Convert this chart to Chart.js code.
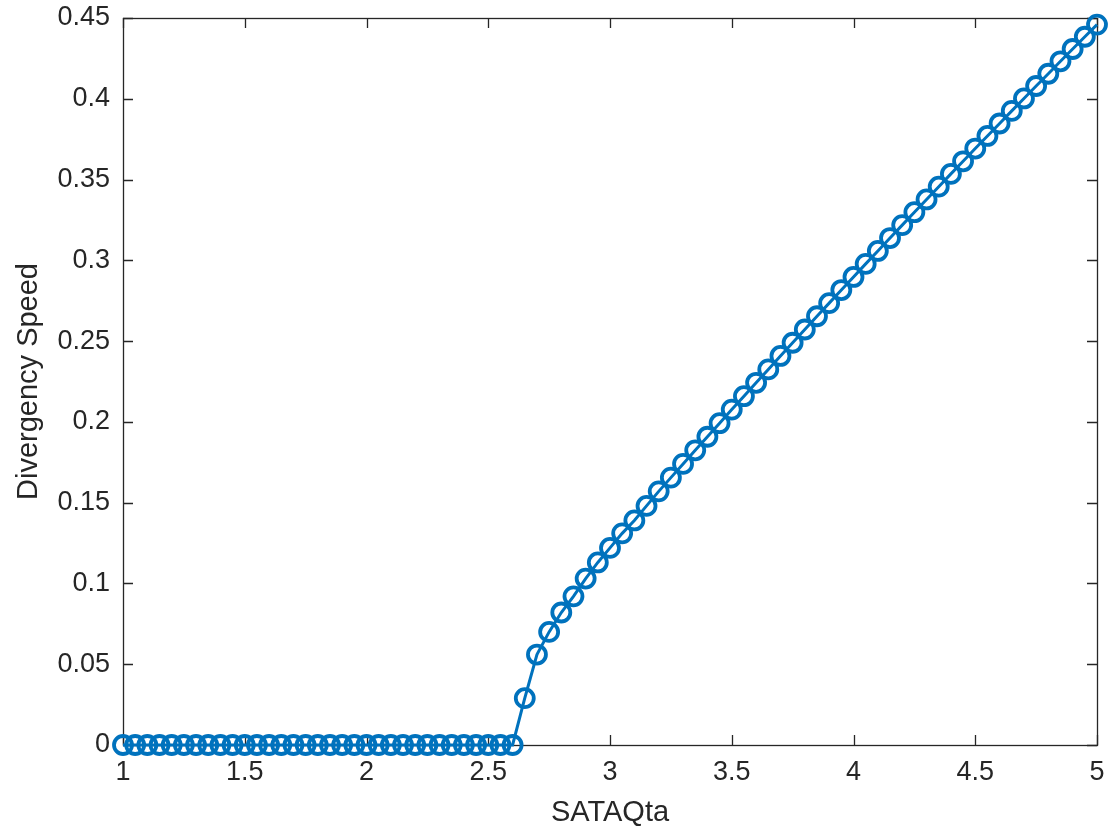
<!DOCTYPE html>
<html>
<head>
<meta charset="utf-8">
<script src="https://cdn.jsdelivr.net/npm/chart.js@4"></script>
<style>
  html, body { margin: 0; padding: 0; background: #fff; }
  #wrap { width: 1112px; height: 834px; }
</style>
</head>
<body>
<div id="wrap"><canvas id="c" width="1112" height="834"></canvas></div>
<script>
// ---- data ----
const sataqta = [
  1.00, 1.05, 1.10, 1.15, 1.20, 1.25, 1.30, 1.35, 1.40, 1.45,
  1.50, 1.55, 1.60, 1.65, 1.70, 1.75, 1.80, 1.85, 1.90, 1.95,
  2.00, 2.05, 2.10, 2.15, 2.20, 2.25, 2.30, 2.35, 2.40, 2.45,
  2.50, 2.55, 2.60, 2.65, 2.70, 2.75, 2.80, 2.85, 2.90, 2.95,
  3.00, 3.05, 3.10, 3.15, 3.20, 3.25, 3.30, 3.35, 3.40, 3.45,
  3.50, 3.55, 3.60, 3.65, 3.70, 3.75, 3.80, 3.85, 3.90, 3.95,
  4.00, 4.05, 4.10, 4.15, 4.20, 4.25, 4.30, 4.35, 4.40, 4.45,
  4.50, 4.55, 4.60, 4.65, 4.70, 4.75, 4.80, 4.85, 4.90, 4.95,
  5.00
];
const divergencySpeed = [
  0, 0, 0, 0, 0, 0, 0, 0, 0, 0,
  0, 0, 0, 0, 0, 0, 0, 0, 0, 0,
  0, 0, 0, 0, 0, 0, 0, 0, 0, 0,
  0, 0, 0, 0.029, 0.056, 0.070, 0.082, 0.092, 0.103, 0.113,
  0.122, 0.131, 0.139, 0.148, 0.157, 0.1655, 0.1740, 0.1824, 0.1908, 0.1992,
  0.2076, 0.2159, 0.2242, 0.2325, 0.2408, 0.2490, 0.2572, 0.2654, 0.2735, 0.2816,
  0.2897, 0.2978, 0.3058, 0.3138, 0.3218, 0.3298, 0.3377, 0.3456, 0.3535, 0.3613,
  0.3692, 0.3770, 0.3847, 0.3925, 0.4002, 0.4079, 0.4155, 0.4232, 0.4308, 0.4384,
  0.4459
];
const xTickValues = [1, 1.5, 2, 2.5, 3, 3.5, 4, 4.5, 5];
const yTickValues = [0, 0.05, 0.1, 0.15, 0.2, 0.25, 0.3, 0.35, 0.4, 0.45];
const xLabel = 'SATAQta';
const yLabel = 'Divergency Speed';

const AXIS_COLOR = '#262626';
const LINE_COLOR = '#0072BD';
const FONT_FAMILY = '"Liberation Sans", Arial, Helvetica, sans-serif';

// box + inward ticks (MATLAB style), positioned through the chart's scales
const boxPlugin = {
  id: 'matlabBox',
  beforeDatasetsDraw(chart) {
    const { ctx, chartArea: a, scales } = chart;
    const tl = 10;
    ctx.save();
    ctx.strokeStyle = AXIS_COLOR;
    ctx.lineWidth = 1.3;
    ctx.strokeRect(Math.round(a.left) + 0.5, Math.round(a.top) + 0.5,
                   Math.round(a.right - a.left), Math.round(a.bottom - a.top));
    ctx.beginPath();
    xTickValues.forEach(v => {
      const px = Math.round(scales.x.getPixelForValue(v)) + 0.5;
      ctx.moveTo(px, a.bottom); ctx.lineTo(px, a.bottom - tl);
      ctx.moveTo(px, a.top); ctx.lineTo(px, a.top + tl);
    });
    yTickValues.forEach(v => {
      const py = Math.round(scales.y.getPixelForValue(v)) + 0.5;
      ctx.moveTo(a.left, py); ctx.lineTo(a.left + tl, py);
      ctx.moveTo(a.right, py); ctx.lineTo(a.right - tl, py);
    });
    ctx.stroke();
    ctx.restore();
  }
};

new Chart(document.getElementById('c'), {
  type: 'line',
  data: {
    datasets: [{
      data: sataqta.map((x, i) => ({ x: x, y: divergencySpeed[i] })),
      borderColor: LINE_COLOR,
      borderWidth: 3,
      backgroundColor: 'rgba(0,0,0,0)',
      pointRadius: 9,
      pointBorderWidth: 3.8,
      pointBorderColor: LINE_COLOR,
      pointBackgroundColor: 'rgba(0,0,0,0)',
      pointHoverRadius: 9,
      tension: 0,
      clip: false
    }]
  },
  options: {
    responsive: false,
    animation: false,
    devicePixelRatio: 1,
    layout: { padding: { top: 18, right: 15, left: 0, bottom: 0 } },
    plugins: { legend: { display: false }, tooltip: { enabled: false } },
    scales: {
      x: {
        type: 'linear',
        min: 1, max: 5,
        afterBuildTicks: s => { s.ticks = xTickValues.map(v => ({ value: v })); },
        afterFit: s => { s.height = 89; s.paddingLeft = 0; s.paddingRight = 0; },
        grid: { display: false, drawTicks: false },
        border: { display: false },
        ticks: {
          color: AXIS_COLOR,
          font: { family: FONT_FAMILY, size: 27 },
          padding: 11,
          maxRotation: 0,
          autoSkip: false,
          callback: v => String(v)
        },
        title: {
          display: true, text: xLabel, color: AXIS_COLOR,
          font: { family: FONT_FAMILY, size: 29 },
          padding: { top: 0, bottom: 4 }
        }
      },
      y: {
        type: 'linear',
        min: 0, max: 0.45,
        afterBuildTicks: s => { s.ticks = yTickValues.map(v => ({ value: v })); },
        afterFit: s => { s.width = 123; s.paddingTop = 0; s.paddingBottom = 0; },
        grid: { display: false, drawTicks: false },
        border: { display: false },
        ticks: {
          color: AXIS_COLOR,
          font: { family: FONT_FAMILY, size: 27 },
          padding: 13,
          autoSkip: false,
          callback: v => String(v)
        },
        title: {
          display: true, text: yLabel, color: AXIS_COLOR,
          font: { family: FONT_FAMILY, size: 29 },
          padding: { top: 12, bottom: 0 }
        }
      }
    }
  },
  plugins: [boxPlugin]
});
</script>
</body>
</html>
